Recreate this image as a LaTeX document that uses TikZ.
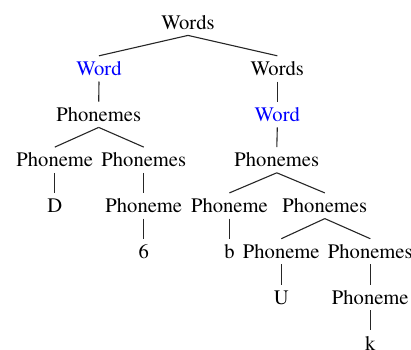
\documentclass[tikz,border=0pt]{standalone}
\usepackage[T1]{fontenc}
\usepackage{times}
\definecolor{wordblue}{RGB}{0,0,255}
\tikzset{
  lbl/.style={anchor=base, font=\rmfamily\fontsize{20.6}{24}\selectfont, text height=13.7pt, text depth=0pt, inner xsep=0pt, inner ysep=5.8pt},
  blu/.style={lbl, text=wordblue},
  edge/.style={draw=black!85, line width=1.1pt}
}
\begin{document}
\begin{tikzpicture}[x=1pt,y=-1pt]
\useasboundingbox (0,0) rectangle (411,349);
% level baselines
\def\la{29.4}\def\lb{75.5}\def\lc{121.4}\def\ld{166.8}\def\le{212.6}\def\lf{258.4}\def\lg{304.2}\def\lh{350.0}
\node[lbl] (root) at (188,\la) {Words};
\node[blu] (w1) at (99,\lb) {Word};
\node[lbl] (ws1) at (277.3,\lb) {Words};
\node[lbl] (ps1) at (98.7,\lc) {Phonemes};
\node[blu] (w2) at (277.3,\lc) {Word};
\node[lbl] (p1) at (54.8,\ld) {Phoneme};
\node[lbl] (ps2) at (143.8,\ld) {Phonemes};
\node[lbl] (ps3) at (276.8,\ld) {Phonemes};
\node[lbl] (d) at (54.8,\le) {D};
\node[lbl] (p2) at (143.8,\le) {Phoneme};
\node[lbl] (p3) at (229.4,\le) {Phoneme};
\node[lbl] (ps4) at (324.8,\le) {Phonemes};
\node[lbl] (six) at (143.8,\lf) {6};
\node[lbl] (b) at (229.4,\lf) {b};
\node[lbl] (p4) at (281.3,\lf) {Phoneme};
\node[lbl] (ps5) at (370.3,\lf) {Phonemes};
\node[lbl] (u) at (281.3,\lg) {U};
\node[lbl] (p5) at (370.3,\lg) {Phoneme};
\node[lbl] (k) at (370.3,\lh) {k};
\draw[edge] (root.south) -- (w1.north);
\draw[edge] (root.south) -- (ws1.north);
\draw[edge] (w1.south) -- (ps1.north);
\draw[edge] (ws1.south) -- (w2.north);
\draw[edge] (ps1.south) -- (p1.north);
\draw[edge] (ps1.south) -- (ps2.north);
\draw[edge] (w2.south) -- (ps3.north);
\draw[edge] (p1.south) -- (d.north);
\draw[edge] (ps2.south) -- (p2.north);
\draw[edge] (ps3.south) -- (p3.north);
\draw[edge] (ps3.south) -- (ps4.north);
\draw[edge] (p2.south) -- (six.north);
\draw[edge] (p3.south) -- (b.north);
\draw[edge] (ps4.south) -- (p4.north);
\draw[edge] (ps4.south) -- (ps5.north);
\draw[edge] (p4.south) -- (u.north);
\draw[edge] (ps5.south) -- (p5.north);
\draw[edge] (p5.south) -- (k.north);
\end{tikzpicture}
\end{document}
